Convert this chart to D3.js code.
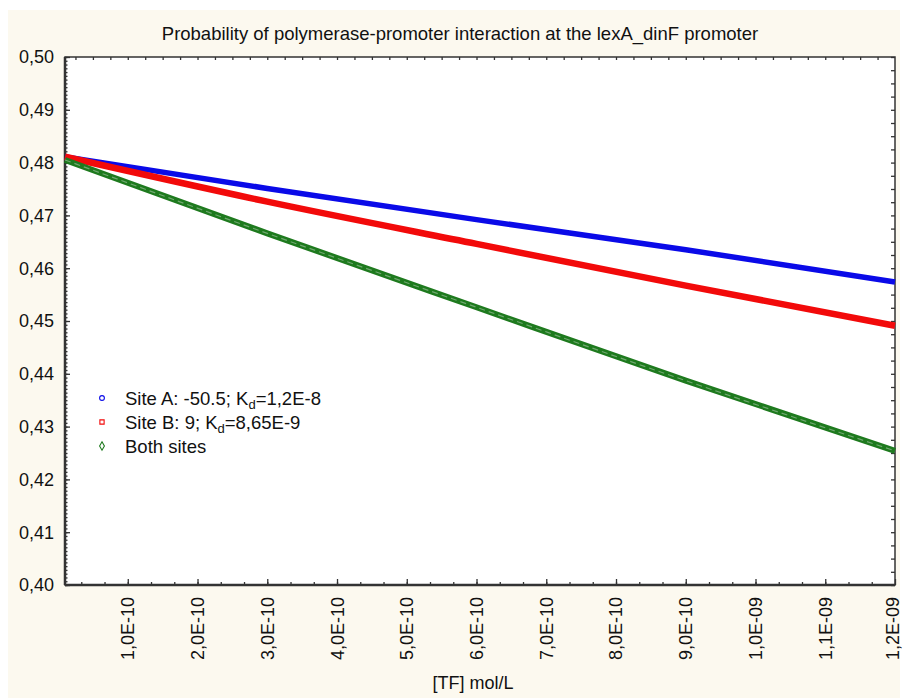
<!DOCTYPE html>
<html>
<head>
<meta charset="utf-8">
<script src="https://cdn.jsdelivr.net/npm/d3@7"></script>
<style>
  body { margin: 0; background: #fff; }
  text { font-family: "Liberation Sans", Arial, sans-serif; fill: #111; }
</style>
</head>
<body>
<svg id="graph"></svg>
<script>
// [TF] concentrations, mol/L
var tf = [1e-11, 3e-10, 6e-10, 9e-10, 1.2e-9];
// probability of polymerase-promoter interaction
var siteA = [0.4811, 0.4751, 0.4692, 0.4635, 0.4574];
var siteB = [0.4811, 0.4726, 0.4646, 0.4567, 0.4491];
var both  = [0.4805, 0.4666, 0.4526, 0.4387, 0.4254];

var yTicks = [0.40, 0.41, 0.42, 0.43, 0.44, 0.45, 0.46, 0.47, 0.48, 0.49, 0.50];
var xTicks = [1e-10, 2e-10, 3e-10, 4e-10, 5e-10, 6e-10, 7e-10, 8e-10, 9e-10, 1e-9, 1.1e-9, 1.2e-9];
var xTickLabels = ["1,0E-10", "2,0E-10", "3,0E-10", "4,0E-10", "5,0E-10", "6,0E-10",
                   "7,0E-10", "8,0E-10", "9,0E-10", "1,0E-09", "1,1E-09", "1,2E-09"];

var seriesNames = [
  {pre: "Site A: -50.5; K", sub: "d", post: "=1,2E-8"},
  {pre: "Site B: 9; K", sub: "d", post: "=8,65E-9"},
  {pre: "Both sites", sub: "", post: ""}
];
var seriesColors = ["#0a0ae8", "#f20a0a", "#1e7a1e"];
var seriesWidths = [5.5, 6.5, 6];
var markers = [d3.symbolCircle, d3.symbolSquare, d3.symbolDiamond];

var screen = {width: 903, height: 698};
var plot = {left: 65, right: 895, top: 57, bottom: 585};

var svg = d3.select("#graph")
  .attr("width", screen.width)
  .attr("height", screen.height);

// cream backdrop
svg.append("rect")
  .attr("x", 8).attr("y", 10)
  .attr("width", 892).attr("height", 688)
  .attr("fill", "#fcf9ef");

svg.append("rect")
  .attr("x", plot.left).attr("y", plot.top)
  .attr("width", plot.right - plot.left).attr("height", plot.bottom - plot.top)
  .attr("fill", "#fff");

var xScale = d3.scaleLinear()
  .domain([1e-11, 1.2e-9])
  .range([plot.left, plot.right]);

var yScale = d3.scaleLinear()
  .domain([0.40, 0.50])
  .range([plot.bottom, plot.top]);

var fmtY = function(d){ return d3.format(".2f")(d).replace(".", ","); };

// left axis, ticks inward
svg.append("g")
  .attr("transform", "translate(" + plot.left + ",0)")
  .call(d3.axisRight(yScale).tickValues(yTicks).tickSize(5).tickFormat(""))
  .select(".domain").remove();
svg.append("g")
  .attr("transform", "translate(" + plot.left + ",0)")
  .call(d3.axisRight(yScale).tickValues(d3.range(0, 141).map(function(i){ return 0.40 + i * 0.1 / 140; }))
    .tickSize(2.5).tickFormat(""))
  .select(".domain").remove();

svg.append("g").selectAll("text")
  .data(yTicks)
  .enter()
  .append("text")
  .attr("x", plot.left - 11)
  .attr("y", function(d){ return yScale(d); })
  .attr("dy", "0.36em")
  .attr("text-anchor", "end")
  .style("font-size", "18px")
  .text(fmtY);

// right axis, ticks inward
svg.append("g")
  .attr("transform", "translate(" + plot.right + ",0)")
  .call(d3.axisLeft(yScale).tickValues(d3.range(0, 41).map(function(i){ return 0.40 + i * 0.0025; }))
    .tickSize(4).tickFormat(""))
  .select(".domain").remove();

// bottom axis, ticks inward
svg.append("g")
  .attr("transform", "translate(0," + plot.bottom + ")")
  .call(d3.axisTop(xScale).tickValues(xTicks).tickSize(6).tickFormat(""))
  .select(".domain").remove();
svg.append("g")
  .attr("transform", "translate(0," + plot.bottom + ")")
  .call(d3.axisTop(xScale).tickValues(d3.range(1, 36).map(function(i){ return i * 1e-10 / 3; })).tickSize(3).tickFormat(""))
  .select(".domain").remove();

// top axis, ticks inward
svg.append("g")
  .attr("transform", "translate(0," + plot.top + ")")
  .call(d3.axisBottom(xScale).tickValues(d3.range(1, 48).map(function(i){ return i * 0.25e-10; })).tickSize(3).tickFormat(""))
  .select(".domain").remove();

svg.selectAll(".tick line").attr("stroke", "#333").attr("stroke-width", 1.3);

svg.append("g").selectAll("text")
  .data(xTicks)
  .enter()
  .append("text")
  .attr("transform", function(d){ return "translate(" + Math.min(xScale(d), 893) + ",597) rotate(-90)"; })
  .attr("dy", "0.36em")
  .attr("text-anchor", "end")
  .style("font-size", "18px")
  .text(function(d, i){ return xTickLabels[i]; });

// frame
svg.append("rect")
  .attr("x", plot.left).attr("y", plot.top)
  .attr("width", plot.right - plot.left).attr("height", plot.bottom - plot.top)
  .attr("fill", "none")
  .attr("stroke", "#333")
  .attr("stroke-width", 1.5);
svg.append("line")
  .attr("x1", plot.left).attr("x2", plot.left)
  .attr("y1", plot.top).attr("y2", plot.bottom)
  .attr("stroke", "#333").attr("stroke-width", 2.5);
svg.append("line")
  .attr("x1", plot.left).attr("x2", plot.right)
  .attr("y1", plot.bottom).attr("y2", plot.bottom)
  .attr("stroke", "#333").attr("stroke-width", 2.5);

// lines
var allSeries = [siteA, siteB, both];
var line = d3.line()
  .x(function(d, i){ return xScale(tf[i]); })
  .y(function(d){ return yScale(d); })
  .curve(d3.curveMonotoneX);

var lines = svg.append("g");
allSeries.forEach(function(s, k){
  lines.append("path")
    .attr("d", line(s))
    .attr("fill", "none")
    .attr("stroke", seriesColors[k])
    .attr("stroke-width", seriesWidths[k]);
});
lines.append("path")
  .attr("d", line(both))
  .attr("fill", "none")
  .attr("stroke", "#6fa86f")
  .attr("stroke-width", 1.2)
  .attr("stroke-dasharray", "6,4");

// legend
var legend = svg.append("g");
seriesNames.forEach(function(n, k){
  var y = 398 + k * 24;
  legend.append("path")
    .attr("transform", "translate(102," + y + ")")
    .attr("d", d3.symbol().type(markers[k]).size(k === 2 ? 20 : 18)())
    .attr("fill", "none")
    .attr("stroke", seriesColors[k])
    .attr("stroke-width", 1.1);
  var t = legend.append("text")
    .attr("x", 125).attr("y", y)
    .attr("dy", "0.36em")
    .style("font-size", "18.5px");
  t.append("tspan").text(n.pre);
  if (n.sub) {
    t.append("tspan").attr("dy", 4).style("font-size", "13px").text(n.sub);
    t.append("tspan").attr("dy", -4).text(n.post);
  }
});

// title and axis label
svg.append("text")
  .attr("x", 460).attr("y", 40)
  .attr("text-anchor", "middle")
  .style("font-size", "18.5px")
  .text("Probability of polymerase-promoter interaction at the lexA_dinF promoter");

svg.append("text")
  .attr("x", 473).attr("y", 689)
  .attr("text-anchor", "middle")
  .style("font-size", "18px")
  .text("[TF] mol/L");
</script>
</body>
</html>
